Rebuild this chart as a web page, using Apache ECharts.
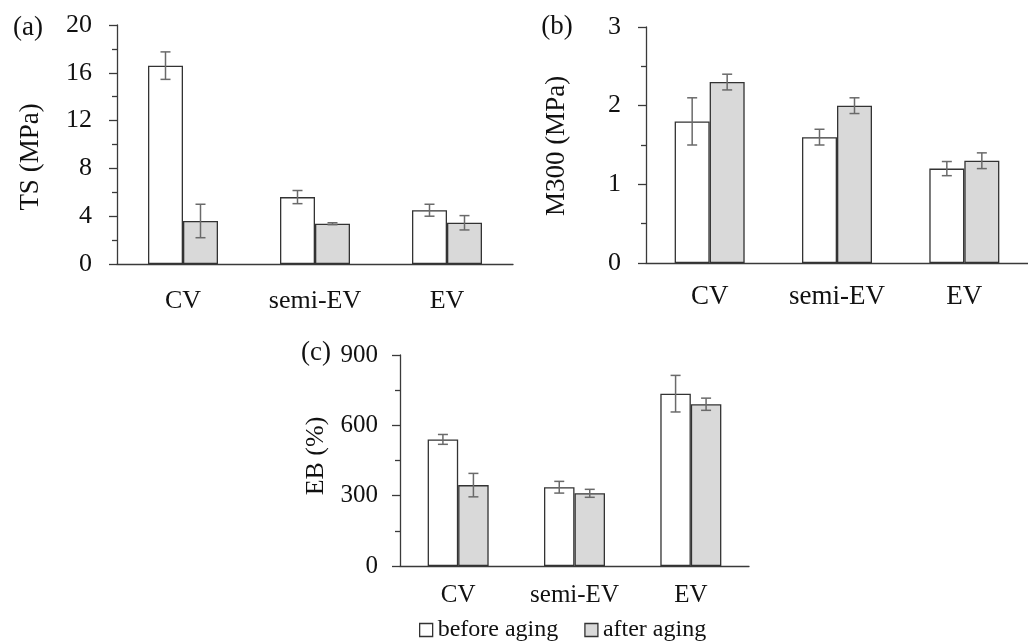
<!DOCTYPE html>
<html>
<head>
<meta charset="utf-8">
<script src="https://cdn.jsdelivr.net/npm/echarts@6/dist/echarts.min.js"></script>
<style>
html,body{margin:0;padding:0;background:#fff;}
#chart{width:1028px;height:641px;}
</style>
</head>
<body>
<div id="chart"></div>
<script>
// ---- data ----
const categories = ['CV', 'semi-EV', 'EV'];
const seriesNames = ['before aging', 'after aging'];

const tsBefore = [16.6, 5.6, 4.5];
const tsBeforeErr = [1.15, 0.55, 0.5];
const tsAfter = [3.6, 3.37, 3.45];
const tsAfterErr = [1.4, 0.08, 0.6];

const m300Before = [1.8, 1.6, 1.2];
const m300BeforeErr = [0.3, 0.1, 0.09];
const m300After = [2.3, 2.0, 1.3];
const m300AfterErr = [0.1, 0.1, 0.1];

const ebBefore = [540, 336, 735];
const ebBeforeErr = [21, 25, 78];
const ebAfter = [345, 310, 690];
const ebAfterErr = [50, 17, 26];

// ---- styling ----
const FONT = 'Liberation Serif';
const AXIS_COLOR = '#3a3a3a';
const BAR_BORDER = '#333333';
const AFTER_FILL = '#d9d9d9';
const ERR_COLOR = '#6a6a6a';

const panels = [
  {grid: {left: 117, top: 25, width: 396, height: 239}, barW: 35, catFont: 26, catMargin: 24,
   yMax: 20, yInt: 4, yFont: 26, yMargin: 25,
   before: tsBefore, beforeErr: tsBeforeErr, after: tsAfter, afterErr: tsAfterErr},
  {grid: {left: 646, top: 27, width: 395, height: 236}, barW: 35, catFont: 27, catMargin: 20,
   yMax: 3, yInt: 1, yFont: 26, yMargin: 25,
   before: m300Before, beforeErr: m300BeforeErr, after: m300After, afterErr: m300AfterErr},
  {grid: {left: 400, top: 355, width: 349, height: 211}, barW: 30.5, catFont: 25, catMargin: 17,
   yMax: 900, yInt: 300, yFont: 25, yMargin: 22,
   before: ebBefore, beforeErr: ebBeforeErr, after: ebAfter, afterErr: ebAfterErr}
];

const grids = [], xAxes = [], yAxes = [], series = [];

function errSeries(idx, vals, errs, offsetSign, barW) {
  return {
    type: 'custom',
    xAxisIndex: idx, yAxisIndex: idx,
    silent: true,
    z: 10,
    data: vals.map((v, i) => [i, v, errs[i]]),
    renderItem: function (params, api) {
      const ci = api.value(0), v = api.value(1), e = api.value(2);
      const top = api.coord([ci, v + e]);
      const bot = api.coord([ci, v - e]);
      const x = top[0] + offsetSign * barW / 2;
      const cap = 5;
      const st = {stroke: ERR_COLOR, lineWidth: 1.5};
      return {
        type: 'group',
        children: [
          {type: 'line', shape: {x1: x, y1: top[1], x2: x, y2: bot[1]}, style: st},
          {type: 'line', shape: {x1: x - cap, y1: top[1], x2: x + cap, y2: top[1]}, style: st},
          {type: 'line', shape: {x1: x - cap, y1: bot[1], x2: x + cap, y2: bot[1]}, style: st}
        ]
      };
    }
  };
}

panels.forEach((p, idx) => {
  grids.push(Object.assign({containLabel: false}, p.grid));
  xAxes.push({
    type: 'category', gridIndex: idx, data: categories,
    axisLine: {show: true, lineStyle: {color: AXIS_COLOR, width: 1.3}},
    axisTick: {show: false},
    axisLabel: {fontFamily: FONT, fontSize: p.catFont, color: '#111', margin: p.catMargin}
  });
  yAxes.push({
    type: 'value', gridIndex: idx, min: 0, max: p.yMax, interval: p.yInt,
    axisLine: {show: true, lineStyle: {color: AXIS_COLOR, width: 1.3}},
    axisTick: {show: true, length: 8, lineStyle: {color: AXIS_COLOR, width: 1.3}},
    minorTick: {show: true, splitNumber: 2, length: 5, lineStyle: {color: AXIS_COLOR, width: 1.3}},
    splitLine: {show: false},
    axisLabel: {fontFamily: FONT, fontSize: p.yFont, color: '#111', margin: p.yMargin}
  });
  series.push({
    name: seriesNames[0], type: 'bar', xAxisIndex: idx, yAxisIndex: idx,
    data: p.before, barWidth: p.barW, barGap: '0%',
    itemStyle: {color: '#ffffff', borderColor: BAR_BORDER, borderWidth: 1.3},
    silent: true
  });
  series.push({
    name: seriesNames[1], type: 'bar', xAxisIndex: idx, yAxisIndex: idx,
    data: p.after, barWidth: p.barW, barGap: '0%',
    itemStyle: {color: AFTER_FILL, borderColor: BAR_BORDER, borderWidth: 1.3},
    silent: true
  });
  series.push(errSeries(idx, p.before, p.beforeErr, -1, p.barW));
  series.push(errSeries(idx, p.after, p.afterErr, 1, p.barW));
});

function txt(x, y, text, size, rot) {
  return {
    type: 'text', x: x, y: y, rotation: rot ? Math.PI / 2 : 0,
    style: {text: text, fontFamily: FONT, fontSize: size, fill: '#111',
            align: 'center', verticalAlign: 'middle'}
  };
}

const chart = echarts.init(document.getElementById('chart'), null, {renderer: 'canvas'});
chart.setOption({
  backgroundColor: '#ffffff',
  animation: false,
  grid: grids,
  xAxis: xAxes,
  yAxis: yAxes,
  series: series,
  legend: {
    data: [
      {name: seriesNames[0], itemStyle: {color: '#ffffff', borderColor: BAR_BORDER, borderWidth: 1.3}},
      {name: seriesNames[1], itemStyle: {color: AFTER_FILL, borderColor: BAR_BORDER, borderWidth: 1.3}}
    ],
    left: 414, top: 613, icon: 'rect', itemWidth: 13, itemHeight: 13, itemGap: 26,
    textStyle: {fontFamily: FONT, fontSize: 24, color: '#111'},
    selectedMode: false
  },
  graphic: [
    txt(28, 28, '(a)', 27),
    txt(557, 27, '(b)', 27),
    txt(316, 353, '(c)', 27),
    txt(31, 157, 'TS (MPa)', 27, true),
    txt(557, 146, 'M300 (MPa)', 27, true),
    txt(316, 456, 'EB (%)', 26, true)
  ]
});
</script>
</body>
</html>
